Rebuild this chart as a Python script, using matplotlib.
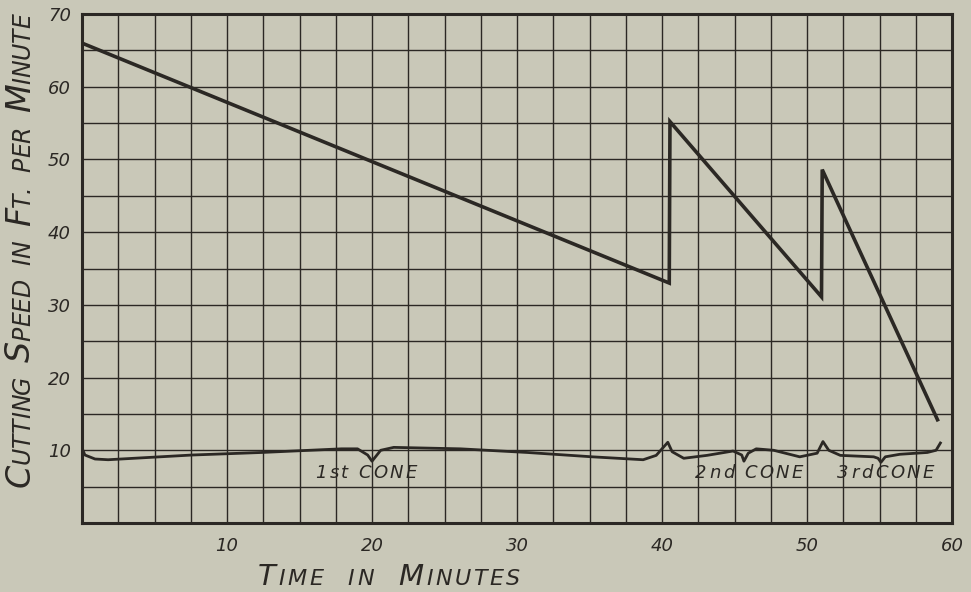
import matplotlib
matplotlib.use("Agg")
import matplotlib.pyplot as plt
from matplotlib.transforms import IdentityTransform
import numpy as np

# -------------------------------
# Data
# -------------------------------
time_min = [0, 40.5, 40.55, 51.0, 51.05, 59.0]
speed_fpm = [66, 33.0, 55.2, 31.1, 48.6, 14.2]

# hand drawn braces under the curve, one per cone
brace_x = [0, 0.2, 0.9, 1.8, 7.6, 12.4, 17.9, 19.0, 19.7, 20.0, 20.6, 21.5, 26.1,
           30.7, 35.2, 38.7, 39.6, 40.4, 40.7, 41.5, 43.1, 44.9, 45.5, 45.65,
           45.95, 46.5, 47.7, 49.5, 50.7, 51.1, 51.5, 52.3, 54.6, 54.9, 55.1,
           55.4, 56.4, 58.3, 58.9, 59.2]
brace_y = [10.3, 9.35, 8.8, 8.7, 9.35, 9.7, 10.2, 10.2, 9.35, 8.5, 10.0, 10.4, 10.2,
           9.7, 9.1, 8.7, 9.3, 11.1, 9.8, 8.9, 9.3, 9.9, 9.35, 8.5,
           9.6, 10.2, 10.0, 9.1, 9.6, 11.2, 10.0, 9.3, 9.1, 8.9, 8.35,
           9.1, 9.45, 9.7, 10.0, 11.0]

cone_labels = ["1st CONE", "2nd CONE", "3rdCONE"]
cone_label_x = [16.1, 42.3, 52.1]
cone_label_y = 6.9

x_ticks = [10, 20, 30, 40, 50, 60]
y_ticks = [10, 20, 30, 40, 50, 60, 70]

# -------------------------------
# Style
# -------------------------------
paper = "#c9c8b8"
ink = "#2b2824"
hand = dict(family="DejaVu Sans", style="italic", color=ink)

fig = plt.figure(figsize=(9.71, 5.92), dpi=100, facecolor=paper)
ax = fig.add_axes([82 / 971, 1 - 523 / 592, 870 / 971, 509 / 592])
ax.set_facecolor(paper)

ax.set_xlim(0, 60)
ax.set_ylim(0, 70)
ax.set_xticks(x_ticks)
ax.set_xticklabels([str(t) for t in x_ticks], fontsize=13, **hand)
ax.set_yticks(y_ticks)
ax.set_yticklabels([str(t) for t in y_ticks], fontsize=13, **hand)
ax.set_xticks(np.arange(0, 60.1, 2.5), minor=True)
ax.set_yticks(np.arange(0, 70.1, 5), minor=True)
ax.tick_params(which="both", length=0)
ax.tick_params(axis="x", pad=10)
ax.tick_params(axis="y", pad=8)
ax.grid(which="both", color=ink, linewidth=1.0)
ax.set_axisbelow(True)
for s in ax.spines.values():
    s.set_color(ink)
    s.set_linewidth(2.2)

ax.plot(time_min, speed_fpm, color=ink, linewidth=2.6, solid_joinstyle="miter")
ax.plot(brace_x, brace_y, color=ink, linewidth=2.0, solid_joinstyle="round")

renderer = fig.canvas.get_renderer()


def spaced_text(x, y, s, size, track, transform):
    # letters drawn one by one so they can be spread like hand lettering
    px, py = transform.transform((x, y))
    for ch in s:
        if ch == " ":
            px += size * 0.55
            continue
        t = fig.text(px, py, ch, transform=IdentityTransform(), fontsize=size,
                     ha="left", va="center", **hand)
        px += t.get_window_extent(renderer).width + track


for lab, lx in zip(cone_labels, cone_label_x):
    spaced_text(lx, cone_label_y, lab, 13, 2.5, ax.transData)


# -------------------------------
# Small caps titles (drafting style lettering), spread to a given length
# -------------------------------
def small_caps(words, x0, y0, length, big, small, gap, rotation=0):
    pieces = []
    for i, w in enumerate(words):
        rest = w
        if w[0].isupper():
            pieces.append((w[0], big, False))
            rest = w[1:]
        for ch in rest.upper():
            pieces.append((ch, small, False))
        if i < len(words) - 1:
            pieces[-1] = (pieces[-1][0], pieces[-1][1], True)

    texts = []
    for ch, size, _ in pieces:
        kw = dict(transform=IdentityTransform(), fontsize=size, ha="left", va="baseline", **hand)
        if rotation:
            kw.update(rotation=90, rotation_mode="anchor")
        t = fig.text(x0, y0, ch, **kw)
        bb = t.get_window_extent(renderer)
        texts.append((t, bb.height if rotation else bb.width))

    n_gaps = len(words) - 1
    natural = sum(a for _, a in texts) + gap * n_gaps
    track = (length - natural) / (len(texts) - 1)

    pos = y0 if rotation else x0
    for (t, adv), (_, _, word_end) in zip(texts, pieces):
        if rotation:
            t.set_position((x0, pos))
        else:
            t.set_position((pos, y0))
        pos += adv + track + (gap if word_end else 0)


small_caps(["Time", "in", "Minutes"], 258, 592 - 585, 262, 21, 16, 22)
small_caps(["Cutting", "Speed", "in", "Ft.", "per", "Minute"], 30, 592 - 487, 474, 24, 17,
           14, rotation=90)

fig.savefig("out.png", dpi=100, facecolor=paper)
